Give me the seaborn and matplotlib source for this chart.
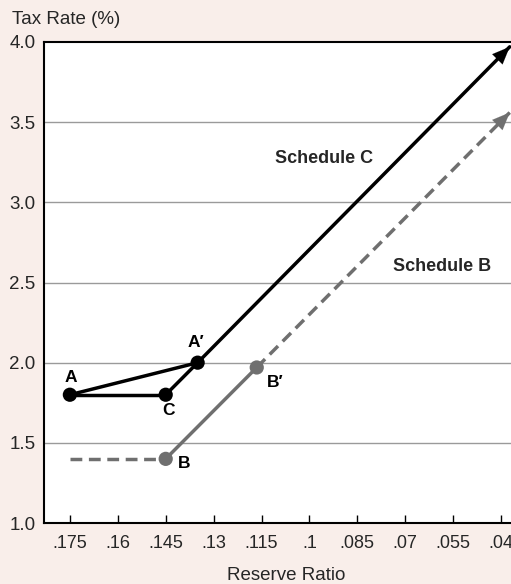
import matplotlib
matplotlib.use("Agg")
import matplotlib.pyplot as plt
import seaborn as sns
import pandas as pd

# ---- data ----
ratio_ticks = [.175, .16, .145, .13, .115, .1, .085, .07, .055, .04]
ratio_labels = [".175", ".16", ".145", ".13", ".115", ".1", ".085", ".07", ".055", ".04"]
tax_ticks = [1.0, 1.5, 2.0, 2.5, 3.0, 3.5, 4.0]

# Schedule C (black)
ac_x = [.175, .135]      # A -> A'
ac_y = [1.8, 2.0]
acc_x = [.175, .145]     # A -> C
acc_y = [1.8, 1.8]
ca_x = [.145, .135]      # C -> A'
ca_y = [1.8, 2.0]
c_x = [.135, .0373]      # A' -> arrow
c_y = [2.0, 3.97]
# Schedule B (gray)
b_dash_x = [.175, .145]
b_dash_y = [1.4, 1.4]
b_solid_x = [.145, .1165]
b_solid_y = [1.4, 1.97]
b_arrow_x = [.1165, .0373]
b_arrow_y = [1.97, 3.56]

points = {"A": (.175, 1.8), "C": (.145, 1.8), "A\u2032": (.135, 2.0),
          "B": (.145, 1.4), "B\u2032": (.1165, 1.97)}

BG = "#F9EEEA"
GRAY = "#6F6F6F"

sns.set_style("white")
plt.rcParams['font.family'] = ['Liberation Sans', 'DejaVu Sans']

fig = plt.figure(figsize=(5.11, 5.84), dpi=100, facecolor=BG)
ax = fig.add_axes([44/511, 61/584, 1 - 44/511, 481/584])
ax.set_facecolor("white")

ax.set_xlim(.1831, .0369)
ax.set_ylim(1.0, 4.0)

for y in tax_ticks[1:-1]:
    ax.axhline(y, color="#9a9a9a", lw=1.0, zorder=0)

LW = 2.5
DASH = [3.4, 1.9]
for xs, ys in [(ac_x, ac_y), (acc_x, acc_y), (ca_x, ca_y), (c_x, c_y)]:
    sns.lineplot(x=xs, y=ys, ax=ax, color="black", lw=LW, sort=False)

sns.lineplot(x=b_dash_x, y=b_dash_y, ax=ax, color=GRAY, lw=LW, sort=False)
ax.lines[-1].set_dashes(DASH)
sns.lineplot(x=b_solid_x, y=b_solid_y, ax=ax, color=GRAY, lw=LW, sort=False)
sns.lineplot(x=b_arrow_x, y=b_arrow_y, ax=ax, color=GRAY, lw=LW, sort=False)
ax.lines[-1].set_dashes(DASH)

# arrowheads
def head(xs, ys, color):
    x0, x1 = xs[-2], xs[-1]
    y0, y1 = ys[-2], ys[-1]
    t = 0.93
    ax.annotate("", xy=(x1, y1), xytext=(x0 + (x1 - x0) * t, y0 + (y1 - y0) * t),
                arrowprops=dict(arrowstyle="-|>,head_length=1.25,head_width=0.52",
                                color=color, lw=0.1, shrinkA=0, shrinkB=0),
                annotation_clip=False, zorder=6)
head(c_x, c_y, "black")
head(b_arrow_x, b_arrow_y, GRAY)

# markers
pts = pd.DataFrame({"x": [points["A"][0], points["C"][0], points["A\u2032"][0]],
                    "y": [points["A"][1], points["C"][1], points["A\u2032"][1]]})
sns.scatterplot(data=pts, x="x", y="y", ax=ax, color="black", s=105, edgecolor="none", zorder=5)
gpts = pd.DataFrame({"x": [points["B"][0], points["B\u2032"][0]],
                     "y": [points["B"][1], points["B\u2032"][1]]})
sns.scatterplot(data=gpts, x="x", y="y", ax=ax, color=GRAY, s=105, edgecolor="none", zorder=5)

lab_kw = dict(fontsize=12.5, fontweight="bold", color="black", textcoords="offset points",
              ha="center", va="center")
ax.annotate("A", points["A"], xytext=(1, 12.5), **lab_kw)
ax.annotate("C", points["C"], xytext=(2, -11.5), **lab_kw)
ax.annotate("A\u2032", points["A\u2032"], xytext=(-1.5, 14.5), **lab_kw)
ax.annotate("B", points["B"], xytext=(13.5, -3.5), **lab_kw)
ax.annotate("B\u2032", points["B\u2032"], xytext=(13, -11), **lab_kw)
ax.text(.0953, 3.275, "Schedule C", ha="center", va="center", fontsize=13, fontweight="bold")
ax.text(.0584, 2.6, "Schedule B", ha="center", va="center", fontsize=13, fontweight="bold")

ax.set_xticks(ratio_ticks)
ax.set_xticklabels(ratio_labels)
ax.set_yticks(tax_ticks)
ax.set_yticklabels([f"{v:.1f}" for v in tax_ticks])
ax.tick_params(axis="x", direction="in", length=6, width=1, color="black", labelsize=13, pad=9, bottom=True)
ax.tick_params(axis="y", length=0, labelsize=13.5, pad=6)

for s in ["left", "bottom", "top"]:
    ax.spines[s].set_visible(True)
    ax.spines[s].set_color("black")
    ax.spines[s].set_linewidth(1.5)
ax.spines["right"].set_visible(False)

ax.set_xlabel("")
ax.set_ylabel("")
fig.text(286/511, 1 - 575/584, "Reserve Ratio", fontsize=13.5, ha="center", va="center")
fig.text(12/511, 1 - 20/584, "Tax Rate (%)", fontsize=13.5, ha="left", va="center")

fig.savefig("out.png", dpi=100, facecolor=BG)
